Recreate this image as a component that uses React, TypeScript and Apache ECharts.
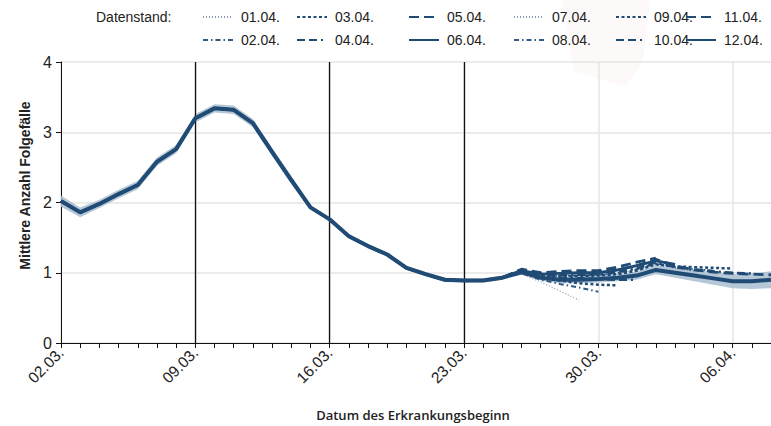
import React, { useEffect, useRef } from "react";
import * as echarts from "echarts";

// Days from 02.03. to 08.04.
const dates = [
  "02.03.", "03.03.", "04.03.", "05.03.", "06.03.", "07.03.", "08.03.", "09.03.", "10.03.", "11.03.",
  "12.03.", "13.03.", "14.03.", "15.03.", "16.03.", "17.03.", "18.03.", "19.03.", "20.03.", "21.03.",
  "22.03.", "23.03.", "24.03.", "25.03.", "26.03.", "27.03.", "28.03.", "29.03.", "30.03.", "31.03.",
  "01.04.", "02.04.", "03.04.", "04.04.", "05.04.", "06.04.", "07.04.", "08.04.",
];

const interventionDates = ["09.03.", "16.03.", "23.03."];

// values shared by all Datenstand series (02.03. - 25.03.)
const common = [
  2.02, 1.86, 1.98, 2.12, 2.25, 2.58, 2.76, 3.2, 3.34, 3.32, 3.13, 2.72, 2.32, 1.93, 1.76, 1.52,
  1.38, 1.26, 1.07, 0.98, 0.9, 0.89, 0.89, 0.93,
];

// values from 26.03. on, per Datenstand
const tail0104 = [0.98, 0.87, 0.74, 0.61];
const tail0204 = [1.0, 0.9, 0.84, 0.79, 0.73];
const tail0304 = [1.0, 0.93, 0.89, 0.85, 0.83, 0.82];
const tail0404 = [1.02, 0.96, 0.93, 0.92, 0.91, 0.9, 0.9];
const tail0504 = [1.05, 1.0, 1.02, 1.03, 1.03, 1.08, 1.15, 1.21];
const tail0604 = [1.03, 0.98, 0.99, 1.0, 1.0, 1.04, 1.1, 1.17, 1.12];
const tail0704 = [1.0, 0.95, 0.95, 0.95, 0.96, 0.99, 1.04, 1.11, 1.06, 1.02];
const tail0804 = [1.01, 0.96, 0.96, 0.96, 0.97, 1.0, 1.05, 1.13, 1.08, 1.05, 1.03];
const tail0904 = [1.0, 0.95, 0.95, 0.95, 0.96, 0.98, 1.03, 1.12, 1.09, 1.08, 1.07, 1.06];
const tail1004 = [1.02, 0.97, 0.97, 0.97, 0.98, 1.01, 1.06, 1.15, 1.08, 1.04, 1.02, 1.0, 0.99];
const tail1104 = [1.04, 0.99, 1.0, 1.01, 1.01, 1.04, 1.1, 1.19, 1.1, 1.04, 1.01, 0.99, 0.98, 0.97];
const tail1204 = [1.01, 0.93, 0.9, 0.9, 0.91, 0.93, 0.96, 1.04, 1.0, 0.96, 0.92, 0.88, 0.88, 0.9];

// 95% band of the latest Datenstand (12.04.)
const bandLower = [
  1.94, 1.79, 1.92, 2.06, 2.19, 2.52, 2.7, 3.14, 3.28, 3.26, 3.07, 2.66, 2.26, 1.9, 1.73, 1.49,
  1.35, 1.23, 1.04, 0.95, 0.87, 0.86, 0.86, 0.9, 0.97, 0.89, 0.85, 0.85, 0.86, 0.88, 0.9, 0.98,
  0.93, 0.88, 0.83, 0.78, 0.77, 0.78,
];
const bandUpper = [
  2.1, 1.93, 2.04, 2.18, 2.31, 2.64, 2.82, 3.26, 3.4, 3.38, 3.19, 2.78, 2.38, 1.96, 1.79, 1.55,
  1.41, 1.29, 1.1, 1.01, 0.93, 0.92, 0.92, 0.96, 1.05, 0.97, 0.95, 0.95, 0.96, 0.98, 1.02, 1.1,
  1.07, 1.04, 1.01, 0.98, 0.99, 1.02,
];

const standNames = [
  "01.04.", "02.04.", "03.04.", "04.04.", "05.04.", "06.04.",
  "07.04.", "08.04.", "09.04.", "10.04.", "11.04.", "12.04.",
];
const tails = [
  tail0104, tail0204, tail0304, tail0404, tail0504, tail0604,
  tail0704, tail0804, tail0904, tail1004, tail1104, tail1204,
];

const DARK = "#1f4b75";
const styles = [
  { type: [1, 2], width: 1.2, color: "#8799b2" },
  { type: [5, 3, 1.5, 3], width: 2, color: "#2f5b86" },
  { type: [3, 2.5], width: 2.5, color: DARK },
  { type: [8, 4, 8, 4, 2, 4], width: 2.5, color: DARK },
  { type: [10, 5], width: 2.8, color: DARK },
  { type: "solid", width: 2.8, color: DARK },
];

const legendCols = [202, 296, 408, 513, 615, 685];

const FONT = "'Liberation Sans', Arial, sans-serif";

export default function App() {
  const ref = useRef<HTMLDivElement>(null);
  useEffect(() => {
    if (!ref.current) return;
    const chart = echarts.init(ref.current, null, { renderer: "svg" });

    const bandDiff = bandUpper.map((u, i) => +(u - bandLower[i]).toFixed(3));

    const lineSeries: any[] = standNames.map((name, i) => {
      const st = styles[i % 6];
      const isMain = i === standNames.length - 1;
      return {
        name,
        type: "line",
        data: [...common, ...tails[i]],
        symbol: "none",
        showSymbol: false,
        smooth: false,
        z: isMain ? 5 : 4,
        lineStyle: {
          type: st.type,
          width: isMain ? 4 : st.width,
          color: st.color,
          cap: "butt",
        },
        itemStyle: { color: st.color },
      };
    });

    const option: any = {
      animation: false,
      title: {
        text: "Datenstand:",
        left: 96,
        top: 9,
        textStyle: { fontFamily: FONT, fontSize: 14, fontWeight: "normal", color: "#222", lineHeight: 16 },
        padding: 0,
      },
      legend: legendCols.map((x, c) => ({
        left: x,
        top: 9,
        orient: "vertical",
        padding: 0,
        itemWidth: 30,
        itemHeight: 10,
        itemGap: 7,
        selectedMode: false,
        itemStyle: { opacity: 0 },
        data: [standNames[c * 2], standNames[c * 2 + 1]],
        textStyle: {
          fontFamily: FONT,
          fontSize: 14,
          color: "#222",
          lineHeight: 16,
          padding: [0, 0, 0, 3],
        },
      })),
      grid: { left: 61, right: 0, top: 62, bottom: 71, containLabel: false },
      xAxis: {
        type: "category",
        data: dates,
        boundaryGap: false,
        name: "Datum des Erkrankungsbeginn",
        nameLocation: "middle",
        nameGap: 65,
        nameTextStyle: { fontFamily: "'Open Sans', sans-serif", fontSize: 13, fontWeight: 600, color: "#222", padding: [0, 6, 0, 0] },
        axisLine: { show: true, lineStyle: { color: "#111", width: 1 } },
        axisTick: { show: true, interval: 0, length: 5, lineStyle: { color: "#111" } },
        axisLabel: {
          interval: 6,
          rotate: 45,
          fontFamily: FONT,
          fontSize: 15.5,
          color: "#222",
          margin: 7,
        },
        splitLine: { show: true, interval: 6, lineStyle: { color: "#e4e4e4", width: 1.5 } },
      },
      yAxis: {
        type: "value",
        min: 0,
        max: 4,
        interval: 1,
        name: "Mittlere Anzahl Folgefälle",
        nameLocation: "middle",
        nameGap: 28,
        nameTextStyle: {
          fontFamily: FONT,
          fontSize: 14,
          fontWeight: "bold",
          color: "#222",
          padding: [0, 0, 0, 34],
        },
        axisLine: { show: true, lineStyle: { color: "#111", width: 1 } },
        axisTick: { show: true, length: 5, lineStyle: { color: "#111" } },
        axisLabel: { fontFamily: FONT, fontSize: 16, color: "#222", margin: 9 },
        splitLine: { show: true, lineStyle: { color: "#e4e4e4", width: 1.5 } },
      },
      graphic: [
        {
          type: "polygon",
          z: -10,
          silent: true,
          shape: { points: [[562, 0], [650, 0], [643, 62], [626, 86], [574, 72]] },
          style: { fill: "rgba(235,90,90,0.035)" },
        },
      ],
      series: [
        {
          name: "bandLower",
          type: "line",
          data: bandLower,
          stack: "band",
          symbol: "none",
          lineStyle: { opacity: 0 },
          z: 2,
          markLine: {
            silent: true,
            symbol: "none",
            label: { show: false },
            lineStyle: { color: "#111", width: 1.3, type: "solid" },
            data: interventionDates.map((d) => ({ xAxis: d })),
          },
        },
        {
          name: "band",
          type: "line",
          data: bandDiff,
          stack: "band",
          symbol: "none",
          lineStyle: { opacity: 0 },
          areaStyle: { color: "#a9bdd1", opacity: 0.85 },
          z: 2,
        },
        ...lineSeries,
      ],
    };
    chart.setOption(option);
    return () => chart.dispose();
  }, []);
  return (
    <div
      ref={ref}
      style={{ position: "fixed", left: 0, top: 0, width: 771, height: 426, background: "#fff" }}
    />
  );
}
